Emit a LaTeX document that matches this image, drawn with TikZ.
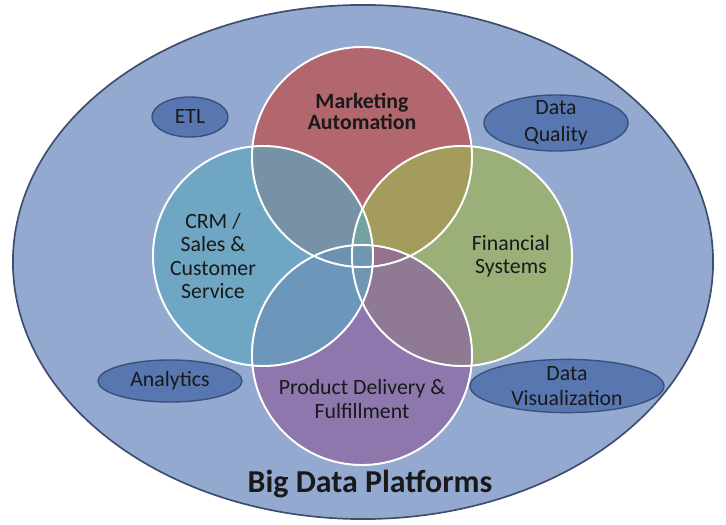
\documentclass[tikz,border=0pt]{standalone}
\usepackage{fontspec}
\setmainfont{Carlito}
\usepackage{xcolor}
\usetikzlibrary{shapes.geometric}
\definecolor{platbg}{RGB}{148,169,208}
\definecolor{platline}{RGB}{62,78,112}
\definecolor{mktred}{RGB}{191,76,71}
\definecolor{crmblue}{RGB}{95,165,192}
\definecolor{fingreen}{RGB}{158,179,85}
\definecolor{prodpurple}{RGB}{139,99,159}
\definecolor{toolfill}{RGB}{88,119,176}
\definecolor{toolline}{RGB}{58,80,125}

\begin{document}
\begin{tikzpicture}[x=0.025cm, y=-0.025cm,
		area/.style={circle, minimum size=5.5cm, inner sep=0pt, fill opacity=0.7},
		tool/.style={ellipse, draw=toolline, line width=1pt, fill=toolfill, inner sep=0pt},
		lbl/.style={align=center, text=black!90, font=\fontsize{15.5}{16.5}\selectfont}]
			\useasboundingbox (0,0) rectangle (726,525);
			\node[ellipse, draw=platline, line width=1.2pt, fill=platbg, minimum width=17.5cm, minimum height=12.85cm] at (363, 262) (platform) {};
			\node[tool, minimum width=1.9cm, minimum height=1cm] at (190, 117) (etl) {};
			\node[tool, minimum width=3.6cm, minimum height=1.4cm] at (556, 123) (quality) {};
			\node[tool, minimum width=3.6cm, minimum height=1.05cm] at (170, 381) (analytics) {};
			\node[tool, minimum width=4.85cm, minimum height=1.33cm] at (567, 386) (visual) {};
			\node[area, fill=mktred] at (362, 157) (mkt) {};
			\node[area, fill=fingreen] at (462, 256) (fin) {};
			\node[area, fill=prodpurple] at (362, 355) (prod) {};
			\node[area, fill=crmblue] at (263, 256) (crm) {};
			\foreach \c in {mkt, fin, prod, crm}
				\node[circle, minimum size=5.5cm, inner sep=0pt, draw=white, line width=1.4pt] at (\c) {};
			\node[lbl, font=\fontsize{15.5}{15}\selectfont\bfseries] at (362, 111) (mkttext) {Marketing\\Automation};
			\node[lbl] at (213, 256) (crmtext) {CRM /\\Sales \&\\Customer\\Service};
			\node[lbl] at (511, 256) (fintext) {Financial\\Systems};
			\node[lbl] at (362, 399) (prodtext) {Product Delivery \&\\Fulfillment};
			\node[lbl] at (etl) (etltext) {ETL};
			\node[lbl, font=\fontsize{15.5}{19}\selectfont] at (quality) (qualitytext) {Data\\Quality};
			\node[lbl] at (analytics) (analyticstext) {Analytics};
			\node[lbl, font=\fontsize{15.5}{17.7}\selectfont] at (visual) (visualtext) {Data\\Visualization};
			\node[text=black!90, font=\fontsize{22.7}{26}\selectfont\bfseries] at (370, 484) (title) {Big Data Platforms};
		\end{tikzpicture}
\end{document}
